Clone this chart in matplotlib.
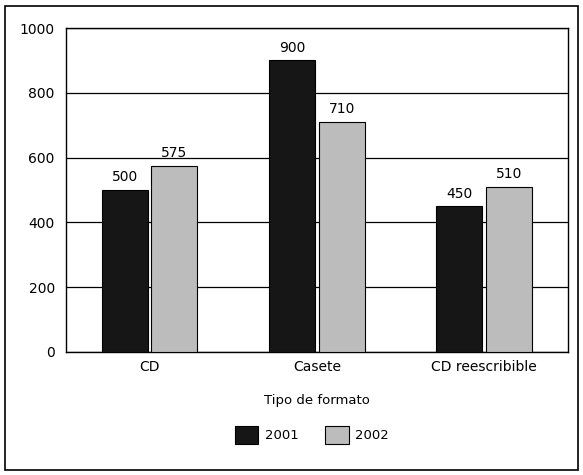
import numpy as np
import matplotlib
matplotlib.use("Agg")
import matplotlib.pyplot as plt
from matplotlib.patches import Rectangle

# ── Data ───────────────────────────────────────────────────
categories = ["CD", "Casete", "CD reescribible"]
years = ["2001", "2002"]
ventas_2001 = [500, 900, 450]
ventas_2002 = [575, 710, 510]
y_ticks = [0, 200, 400, 600, 800, 1000]

COLORS = {"2001": "#161616", "2002": "#bcbcbc"}

fig = plt.figure(figsize=(5.83, 4.75), dpi=100)
ax = fig.add_axes([0.113, 0.259, 0.861, 0.682])

# outer frame around the whole chart
fig.patches.append(Rectangle((0.008, 0.01), 0.984, 0.977, transform=fig.transFigure,
                             fill=False, edgecolor="black", linewidth=1.2))

x = np.arange(len(categories))
w = 0.275
b1 = ax.bar(x - 0.149, ventas_2001, w, color=COLORS["2001"], edgecolor="black",
            linewidth=0.8, label="2001", zorder=3)
b2 = ax.bar(x + 0.149, ventas_2002, w, color=COLORS["2002"], edgecolor="black",
            linewidth=0.8, label="2002", zorder=3)

for bars in (b1, b2):
    for rect in bars:
        h = rect.get_height()
        ax.annotate(f"{h:g}", (rect.get_x() + rect.get_width() / 2, h),
                    xytext=(0, 4), textcoords="offset points",
                    ha="center", va="bottom", fontsize=10)

ax.set_xlim(-0.5, 2.5)
ax.set_ylim(0, 1000)
ax.set_yticks(y_ticks)
ax.set_xticks(x)
ax.set_xticklabels(categories, fontsize=10)
ax.tick_params(axis="y", labelsize=10, length=0, pad=8)
ax.tick_params(axis="x", length=0, pad=6)
ax.grid(True, axis="y", color="black", linewidth=0.9, zorder=0)
for s in ax.spines.values():
    s.set_linewidth(1.0)

ax.set_xlabel("Tipo de formato", fontsize=9.5, labelpad=14)

fig.legend(handles=[b1, b2], labels=years, loc="center", bbox_to_anchor=(0.535, 0.085),
           ncol=2, frameon=False, fontsize=9.5, handlelength=1.8, handleheight=1.7,
           columnspacing=2.0, handletextpad=0.5)

plt.savefig("out.png", dpi=100)
